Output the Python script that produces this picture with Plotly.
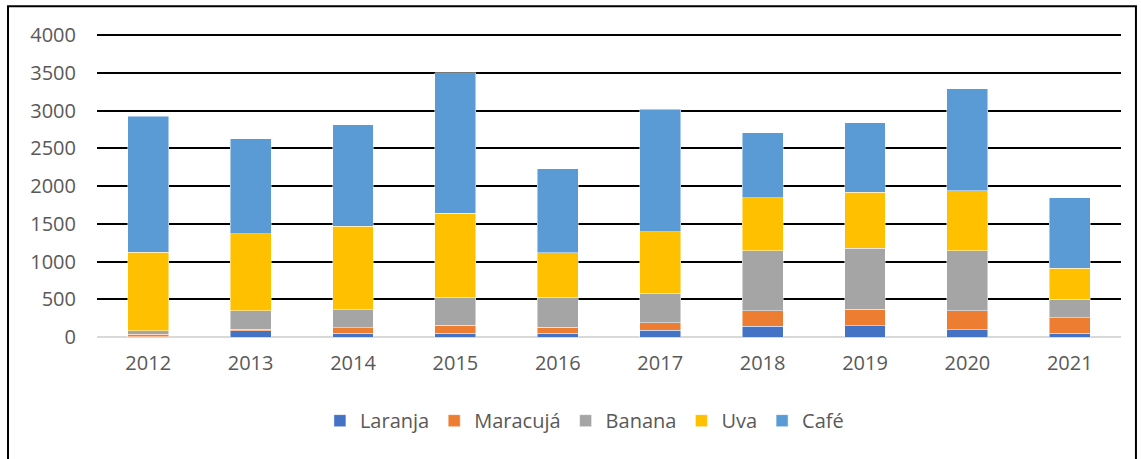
import plotly.graph_objects as go

years = ["2012", "2013", "2014", "2015", "2016", "2017", "2018", "2019", "2020", "2021"]
laranja = [5, 85, 48, 48, 48, 88, 141, 150, 97, 48]
maracuja = [30, 20, 75, 111, 84, 102, 204, 221, 248, 204]
banana = [50, 240, 240, 371, 398, 393, 798, 803, 798, 246]
uva = [1040, 1022, 1106, 1111, 589, 811, 702, 745, 794, 413]
cafe = [1800, 1258, 1342, 1859, 1112, 1624, 859, 918, 1355, 934]

series = [
    ("Laranja", laranja, "#4472C4"),
    ("Maracujá", maracuja, "#ED7D31"),
    ("Banana", banana, "#A5A5A5"),
    ("Uva", uva, "#FFC000"),
    ("Café", cafe, "#5B9BD5"),
]

fig = go.Figure()
for name, vals, col in series:
    fig.add_trace(go.Bar(
        x=years, y=vals, name=name,
        marker=dict(color=col, line=dict(color="rgba(255,255,255,0.6)", width=0.8)),
    ))

font = dict(family="Open Sans, Noto Sans, sans-serif", size=20, color="#595959")

ytop = 4015
plot_h = 302.5 * ytop / 4000
top_m = 337.5 - plot_h

fig.update_layout(
    barmode="stack",
    bargap=0.6,
    width=1141, height=459,
    margin=dict(l=97, r=20, t=top_m, b=121.5),
    plot_bgcolor="white", paper_bgcolor="white",
    font=font,
    showlegend=True,
    legend=dict(orientation="h", x=0.476, xanchor="center", y=-0.276, yanchor="middle",
                font=font, traceorder="normal", itemwidth=30),
    xaxis=dict(showgrid=False, showline=False, ticks="", tickfont=font,
               ticklabelstandoff=12),
    yaxis=dict(range=[0, ytop], tickvals=[0, 500, 1000, 1500, 2000, 2500, 3000, 3500, 4000],
               showgrid=True, gridcolor="#000000",
               gridwidth=2, zeroline=True, zerolinecolor="#D9D9D9", zerolinewidth=2,
               showline=False, ticks="", tickfont=font, ticklabelstandoff=20),
    shapes=[dict(type="rect", xref="paper", yref="paper",
                 x0=-0.0869, x1=1.0146, y0=-0.45, y1=(337.5 - 6) / plot_h,
                 line=dict(color="#000000", width=2), fillcolor="rgba(0,0,0,0)",
                 layer="above")],
)

fig.write_html("out.html")
